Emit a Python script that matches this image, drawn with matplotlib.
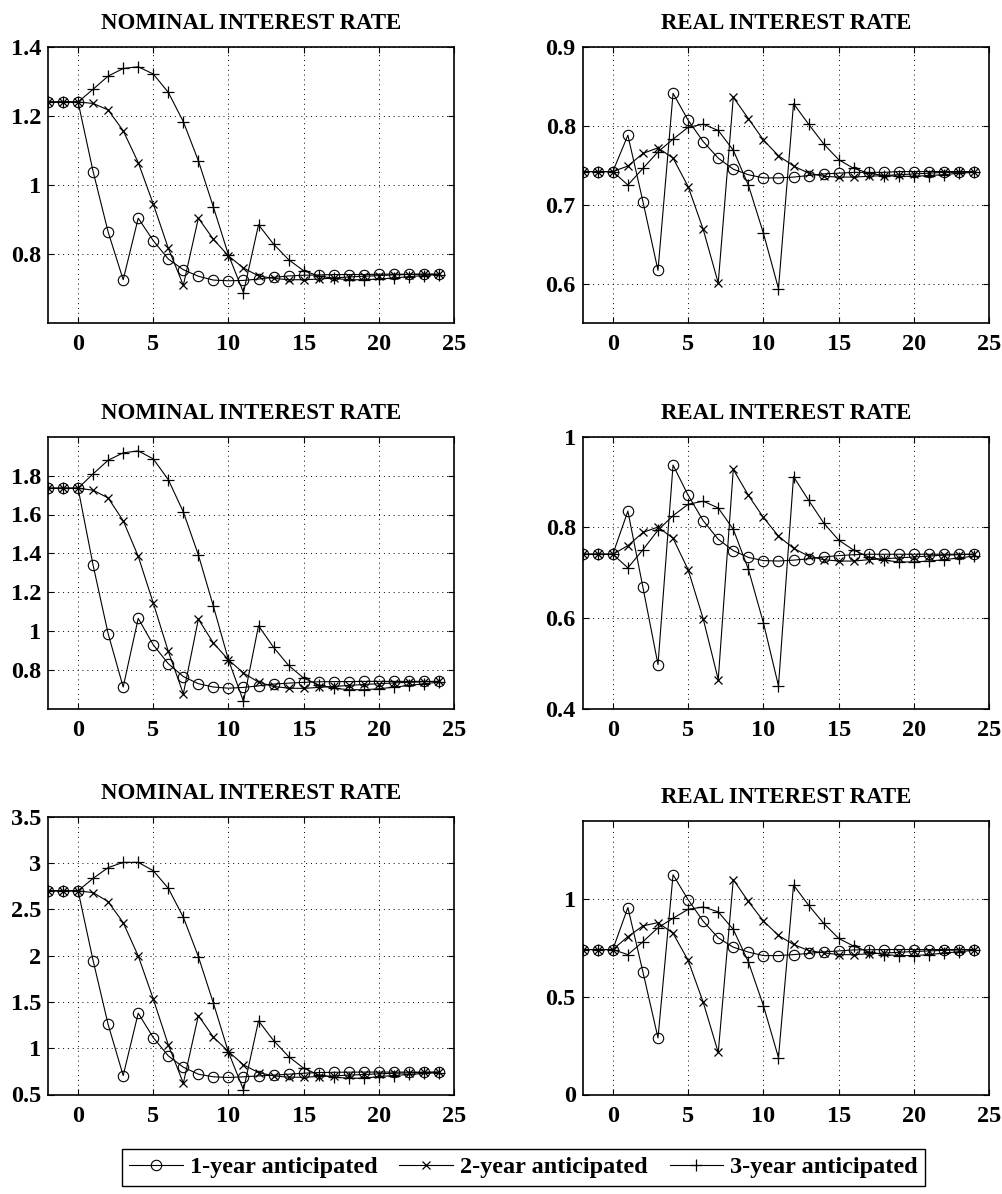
import matplotlib
matplotlib.use("Agg")
import matplotlib.pyplot as plt
from matplotlib.ticker import FuncFormatter

plt.rcParams['font.family'] = ['Liberation Serif', 'DejaVu Serif']
plt.rcParams['font.weight'] = 'bold'

periods = list(range(-2, 25))

series_labels = ["1-year anticipated", "2-year anticipated", "3-year anticipated"]
panel_titles = ["NOMINAL INTEREST RATE", "REAL INTEREST RATE"]

# Row 1
one_nom1 = [1.24, 1.24, 1.24, 1.039, 0.864, 0.726, 0.904, 0.839, 0.786, 0.755, 0.736, 0.725, 0.723, 0.724,
            0.728, 0.733, 0.737, 0.739, 0.740, 0.741, 0.741, 0.741, 0.742, 0.742, 0.742, 0.742, 0.742]
two_nom1 = [1.24, 1.24, 1.24, 1.236, 1.217, 1.157, 1.065, 0.945, 0.817, 0.710, 0.904, 0.843, 0.795, 0.760,
            0.737, 0.730, 0.726, 0.726, 0.728, 0.731, 0.734, 0.736, 0.738, 0.740, 0.741, 0.742, 0.742]
three_nom1 = [1.24, 1.24, 1.24, 1.277, 1.315, 1.337, 1.342, 1.321, 1.268, 1.183, 1.070, 0.936, 0.798, 0.689,
              0.885, 0.829, 0.784, 0.752, 0.737, 0.730, 0.726, 0.726, 0.728, 0.731, 0.735, 0.738, 0.741]
one_real1 = [0.742, 0.742, 0.742, 0.788, 0.704, 0.617, 0.841, 0.807, 0.780, 0.759, 0.745, 0.738, 0.734, 0.734,
             0.735, 0.737, 0.739, 0.740, 0.741, 0.741, 0.741, 0.742, 0.742, 0.742, 0.742, 0.742, 0.742]
two_real1 = [0.742, 0.742, 0.742, 0.749, 0.765, 0.772, 0.759, 0.723, 0.669, 0.601, 0.836, 0.809, 0.782, 0.762,
             0.749, 0.740, 0.736, 0.735, 0.735, 0.736, 0.737, 0.738, 0.739, 0.740, 0.741, 0.741, 0.742]
three_real1 = [0.742, 0.742, 0.742, 0.725, 0.746, 0.767, 0.783, 0.798, 0.802, 0.794, 0.769, 0.725, 0.664, 0.594,
               0.828, 0.802, 0.777, 0.757, 0.746, 0.740, 0.737, 0.736, 0.736, 0.737, 0.738, 0.740, 0.741]

# Row 2
one_nom2 = [1.735, 1.735, 1.735, 1.339, 0.987, 0.713, 1.066, 0.930, 0.833, 0.767, 0.730, 0.713, 0.707, 0.711,
            0.719, 0.728, 0.733, 0.737, 0.740, 0.741, 0.741, 0.742, 0.742, 0.742, 0.742, 0.742, 0.742]
two_nom2 = [1.735, 1.735, 1.735, 1.725, 1.685, 1.568, 1.385, 1.145, 0.896, 0.678, 1.062, 0.939, 0.853, 0.785,
            0.738, 0.716, 0.707, 0.706, 0.711, 0.716, 0.721, 0.726, 0.730, 0.734, 0.737, 0.740, 0.742]
three_nom2 = [1.735, 1.735, 1.735, 1.809, 1.879, 1.917, 1.927, 1.886, 1.779, 1.613, 1.392, 1.128, 0.853, 0.639,
              1.028, 0.917, 0.824, 0.759, 0.724, 0.707, 0.699, 0.699, 0.704, 0.712, 0.721, 0.730, 0.738]
one_real2 = [0.741, 0.741, 0.741, 0.836, 0.668, 0.498, 0.9375, 0.871, 0.815, 0.774, 0.749, 0.734, 0.727, 0.726,
             0.728, 0.731, 0.735, 0.738, 0.740, 0.741, 0.741, 0.741, 0.741, 0.741, 0.741, 0.741, 0.741]
two_real2 = [0.741, 0.741, 0.741, 0.760, 0.789, 0.801, 0.776, 0.707, 0.599, 0.465, 0.928, 0.871, 0.822, 0.781,
             0.754, 0.737, 0.729, 0.726, 0.726, 0.729, 0.731, 0.733, 0.735, 0.737, 0.739, 0.740, 0.741]
three_real2 = [0.741, 0.741, 0.741, 0.711, 0.751, 0.794, 0.826, 0.851, 0.858, 0.843, 0.796, 0.708, 0.590, 0.451,
               0.912, 0.860, 0.810, 0.772, 0.750, 0.735, 0.728, 0.724, 0.724, 0.726, 0.729, 0.733, 0.737]

# Row 3
one_nom3 = [2.70, 2.70, 2.70, 1.946, 1.256, 0.705, 1.378, 1.115, 0.917, 0.795, 0.719, 0.691, 0.684, 0.691,
            0.701, 0.709, 0.719, 0.730, 0.737, 0.740, 0.741, 0.742, 0.742, 0.742, 0.742, 0.742, 0.742]
two_nom3 = [2.70, 2.70, 2.70, 2.680, 2.583, 2.356, 1.996, 1.532, 1.036, 0.622, 1.353, 1.119, 0.964, 0.820,
            0.737, 0.701, 0.687, 0.687, 0.694, 0.701, 0.709, 0.716, 0.723, 0.729, 0.734, 0.738, 0.741]
three_nom3 = [2.70, 2.70, 2.70, 2.834, 2.950, 3.007, 3.007, 2.917, 2.727, 2.414, 1.989, 1.486, 0.957, 0.550,
              1.295, 1.083, 0.910, 0.784, 0.712, 0.687, 0.676, 0.676, 0.694, 0.705, 0.716, 0.727, 0.737]
one_real3 = [0.742, 0.742, 0.742, 0.957, 0.627, 0.290, 1.125, 0.997, 0.887, 0.802, 0.754, 0.729, 0.711, 0.711,
             0.716, 0.722, 0.730, 0.735, 0.740, 0.741, 0.742, 0.742, 0.742, 0.742, 0.742, 0.742, 0.742]
two_real3 = [0.742, 0.742, 0.742, 0.808, 0.863, 0.880, 0.825, 0.687, 0.473, 0.215, 1.100, 0.988, 0.888, 0.814,
             0.768, 0.737, 0.725, 0.716, 0.716, 0.720, 0.724, 0.728, 0.732, 0.735, 0.738, 0.740, 0.742]
three_real3 = [0.742, 0.742, 0.742, 0.716, 0.782, 0.854, 0.902, 0.948, 0.960, 0.935, 0.845, 0.679, 0.455, 0.189,
               1.072, 0.969, 0.876, 0.799, 0.759, 0.730, 0.716, 0.711, 0.711, 0.716, 0.724, 0.731, 0.738]

x_ticks = [0, 5, 10, 15, 20, 25]

W, H = 1003, 1194
fig = plt.figure(figsize=(W / 100, H / 100), dpi=100)

def px_axes(left, top, right, bottom):
    return [left / W, 1 - bottom / H, (right - left) / W, (bottom - top) / H]

panels = [
    (px_axes(48, 46.7, 454, 323.3), panel_titles[0], (one_nom1, two_nom1, three_nom1), (0.6, 1.4), [0.8, 1.0, 1.2, 1.4]),
    (px_axes(582.7, 46.7, 989.3, 323.3), panel_titles[1], (one_real1, two_real1, three_real1), (0.55, 0.9), [0.6, 0.7, 0.8, 0.9]),
    (px_axes(48, 436.7, 454, 709), panel_titles[0], (one_nom2, two_nom2, three_nom2), (0.6, 2.0), [0.8, 1.0, 1.2, 1.4, 1.6, 1.8]),
    (px_axes(582.7, 436.7, 989.3, 709), panel_titles[1], (one_real2, two_real2, three_real2), (0.4, 1.0), [0.4, 0.6, 0.8, 1.0]),
    (px_axes(48, 816.7, 454, 1094.5), panel_titles[0], (one_nom3, two_nom3, three_nom3), (0.5, 3.5), [0.5, 1.0, 1.5, 2.0, 2.5, 3.0, 3.5]),
    (px_axes(582.7, 821, 989.3, 1094.5), panel_titles[1], (one_real3, two_real3, three_real3), (0.0, 1.4), [0.0, 0.5, 1.0]),
]

marker_styles = [
    dict(marker='o', markersize=7.5, markerfacecolor='none', markeredgewidth=0.8),
    dict(marker='x', markersize=6, markeredgewidth=0.9),
    dict(marker='+', markersize=9, markeredgewidth=0.9),
]

fmt = FuncFormatter(lambda v, p: f"{v:g}")
handles = None
for rect, title, series, ylim, yticks in panels:
    ax = fig.add_axes(rect)
    hs = []
    for vals, ms, lab in zip(series, marker_styles, series_labels):
        h, = ax.plot(periods, vals, color='black', linewidth=0.8, label=lab, **ms)
        hs.append(h)
    if handles is None:
        handles = hs
    ax.set_xlim(-2, 25)
    ax.set_ylim(*ylim)
    ax.set_xticks(x_ticks)
    ax.set_yticks(yticks)
    ax.yaxis.set_major_formatter(fmt)
    ax.grid(True, color='black', linestyle=(0, (1, 4)), linewidth=0.7)
    ax.tick_params(direction='in', length=4, width=0.8, labelsize=17.5, pad=8,
                   top=True, right=True)
    ax.tick_params(axis='y', pad=5)
    for lbl in ax.get_xticklabels() + ax.get_yticklabels():
        lbl.set_fontweight('bold')
    for sp in ax.spines.values():
        sp.set_linewidth(1.2)
        sp.set_color('black')
    ax.set_title(title, fontsize=16.5, fontweight='bold', pad=13)

leg = fig.legend(handles, series_labels, loc='upper center', bbox_to_anchor=(0.522, 1 - 1149 / H),
                 ncol=3, frameon=True, fancybox=False, edgecolor='black', framealpha=1,
                 prop=dict(size=17.5, weight='bold'), handlelength=2.2, handletextpad=0.3,
                 columnspacing=0.9, borderpad=0.3, numpoints=1, borderaxespad=0)
leg.get_frame().set_linewidth(1.0)

fig.savefig("out.png", dpi=100)
